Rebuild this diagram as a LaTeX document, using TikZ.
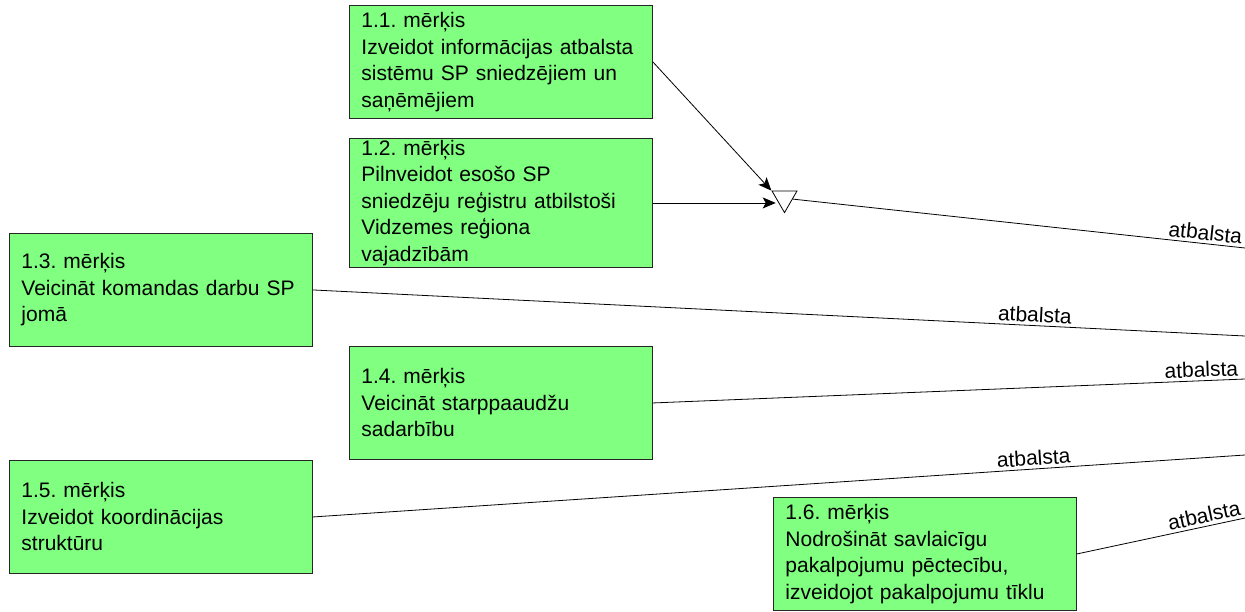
\documentclass[tikz,border=0pt]{standalone}
\usepackage{fontspec}
\setmainfont{Liberation Sans}
\usetikzlibrary{arrows.meta,shapes.geometric}
\definecolor{goalgreen}{RGB}{128,255,128}
\frenchspacing
\begin{document}
\begin{tikzpicture}[x=1pt,y=-1pt,
  goal/.style={draw=black!85, line width=0.9pt, fill=goalgreen,
    minimum width=303pt, minimum height=113pt, text width=279pt,
    align=left, inner sep=0pt, anchor=north west,
    font=\fontsize{21}{26.5}\selectfont},
  link/.style={draw=black, line width=0.8pt},
  tip/.style={-{Stealth[length=13pt,width=11pt,inset=3pt]}},
  lbl/.style={above, sloped, inner sep=3pt, font=\fontsize{21}{24}\selectfont},
  junction/.style={draw=black, fill=white, line width=0.8pt,
    regular polygon, regular polygon sides=3, shape border rotate=180,
    minimum size=28.8pt, inner sep=0pt}]
\useasboundingbox (0,0) rectangle (1245,611);

% goal boxes
\node[goal] (b11) at (349,5) {1.1. mērķis\\Izveidot informācijas atbalsta\\sistēmu SP sniedzējiem un\\saņēmējiem};
\node[goal, minimum height=129pt] (b12) at (349,138) {1.2. mērķis\\Pilnveidot esošo SP\\sniedzēju reģistru atbilstoši\\Vidzemes reģiona\\vajadzībām};
\node[goal] (b13) at (9,233) {1.3. mērķis\\Veicināt komandas darbu SP\\jomā};
\node[goal] (b14) at (349,346) {1.4. mērķis\\Veicināt starppaaudžu\\sadarbību};
\node[goal] (b15) at (9,460) {1.5. mērķis\\Izveidot koordinācijas\\struktūru};
\node[goal] (b16) at (773,497) {1.6. mērķis\\Nodrošināt savlaicīgu\\pakalpojumu pēctecību,\\izveidojot pakalpojumu tīklu};

% junction joining goals 1.1 and 1.2
\node[junction] (tri) at (784.5,198.2) {};

% free ends of the connectors at the right border
\coordinate (e1) at (1245,248);
\coordinate (e3) at (1245,336);
\coordinate (e4) at (1245,379);
\coordinate (e5) at (1245,455);
\coordinate (e6) at (1245,518);

% connectors
\draw[link, tip] (b11.east) -- (tri.corner 3);
\draw[link, tip] (b12.east) -- (b12.east -| tri.west);
\draw[link] (tri) -- (e1) node[lbl, pos=0.91] {atbalsta};
\draw[link] (b13.east) -- (e3) node[lbl, pos=0.774] {atbalsta};
\draw[link] (b14.east) -- (e4) node[lbl, pos=0.927] {atbalsta};
\draw[link] (b15.east) -- (e5) node[lbl, pos=0.774] {atbalsta};
\draw[link] (b16.east) -- (e6) node[lbl, pos=0.77] {atbalsta};
\end{tikzpicture}
\end{document}
